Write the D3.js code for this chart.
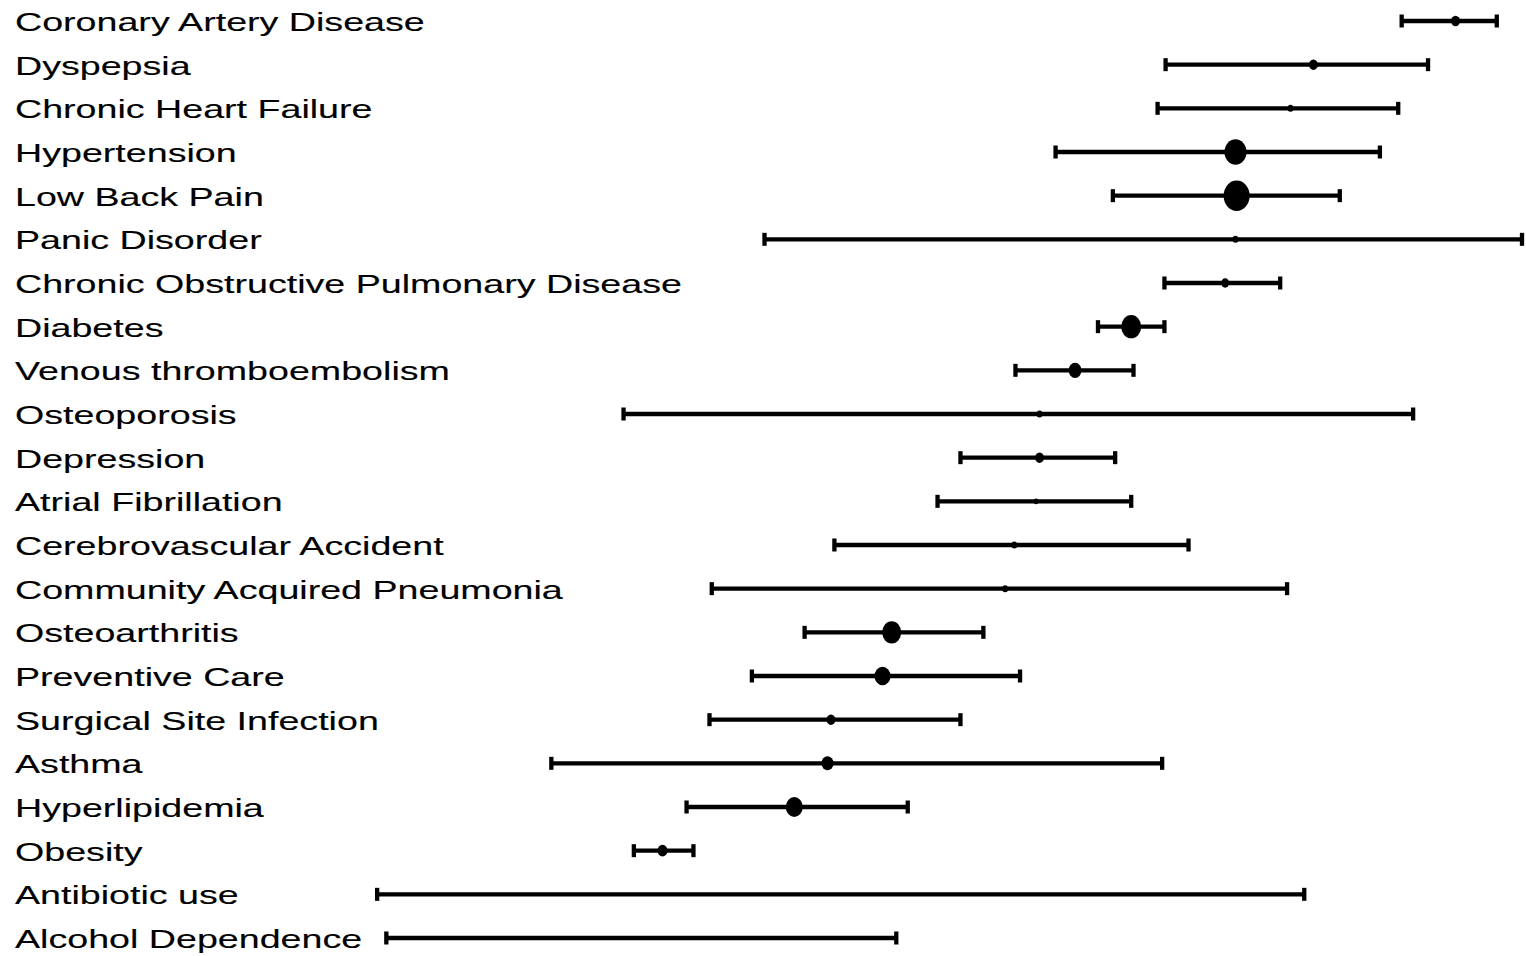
<!DOCTYPE html>
<html lang="en">
  <head>
    <meta charset="UTF-8" />
    <title>Forest plot</title>
    <script src="https://d3js.org/d3.v7.min.js"></script>
    <style>
      body {
        margin: 0;
        background-color: #fff;
        font-family: Arial, "Liberation Sans", sans-serif;
      }
    </style>
  </head>
  <body>
    <div id="chart"></div>
    <script>
      // values (no axis shown, so an arbitrary 0-100 scale)
      const conditions = [
        "Coronary Artery Disease",
        "Dyspepsia",
        "Chronic Heart Failure",
        "Hypertension",
        "Low Back Pain",
        "Panic Disorder",
        "Chronic Obstructive Pulmonary Disease",
        "Diabetes",
        "Venous thromboembolism",
        "Osteoporosis",
        "Depression",
        "Atrial Fibrillation",
        "Cerebrovascular Accident",
        "Community Acquired Pneumonia",
        "Osteoarthritis",
        "Preventive Care",
        "Surgical Site Infection",
        "Asthma",
        "Hyperlipidemia",
        "Obesity",
        "Antibiotic use",
        "Alcohol Dependence",
      ];
      const estimate = [
        94.2, 81.8, 79.8, 75.0, 75.1, 75.0, 74.1, 65.9, 61.0, 57.9, 57.9,
        57.6, 55.7, 54.9, 45.0, 44.2, 39.7, 39.4, 36.5, 25.0, 19.9, 13.3,
      ];
      const lower = [
        89.5, 68.9, 68.2, 59.3, 64.3, 33.9, 68.8, 63.0, 55.8, 21.6, 51.0,
        49.0, 40.0, 29.3, 37.4, 32.8, 29.1, 15.3, 27.1, 22.5, 0.1, 0.9,
      ];
      const upper = [
        97.8, 91.8, 89.2, 87.6, 84.1, 100.0, 78.9, 68.8, 66.1, 90.5, 64.5,
        65.9, 70.9, 79.5, 53.0, 56.2, 51.0, 68.6, 46.4, 27.7, 81.0, 45.4,
      ];
      // relative weight -> dot size
      const weight = [
        20, 20, 9, 121, 169, 9, 16, 100, 42, 9, 20, 6, 9, 9, 90, 64, 20, 36,
        72, 25, 2, 2,
      ];

      const width = 1526;
      const height = 956;

      const rows = conditions.map((name, i) => ({
        name,
        est: estimate[i],
        lo: lower[i],
        hi: upper[i],
        w: weight[i],
      }));

      const svg = d3
        .select("#chart")
        .append("svg")
        .attr("width", width)
        .attr("height", height);

      const x = d3.scaleLinear().domain([0, 100]).range([376, 1522]);
      const y = d3.scalePoint().domain(conditions).range([21, 938]);
      const r = d3.scaleSqrt().domain([0, d3.max(weight)]).range([0, 13]);

      // labels (the source image is stretched sideways)
      svg
        .selectAll("text.label")
        .data(rows)
        .join("text")
        .attr("class", "label")
        .attr(
          "transform",
          (d) => `translate(15, ${y(d.name) + 10}) scale(1.42, 1)`
        )
        .attr("font-size", 26.5)
        .attr("fill", "#000")
        .attr("stroke", "#000")
        .attr("stroke-width", 0.12)
        .text((d) => d.name);

      const g = svg.selectAll("g.row").data(rows).join("g").attr("class", "row");

      g.append("line")
        .attr("x1", (d) => x(d.lo))
        .attr("x2", (d) => x(d.hi))
        .attr("y1", (d) => y(d.name))
        .attr("y2", (d) => y(d.name))
        .attr("stroke", "#000")
        .attr("stroke-width", 4.3);

      // end caps
      ["lo", "hi"].forEach((k) => {
        g.append("line")
          .attr("x1", (d) => x(d[k]))
          .attr("x2", (d) => x(d[k]))
          .attr("y1", (d) => y(d.name) - 6.5)
          .attr("y2", (d) => y(d.name) + 6.5)
          .attr("stroke", "#000")
          .attr("stroke-width", 4.3);
      });

      g.append("ellipse")
        .attr("cx", (d) => x(d.est))
        .attr("cy", (d) => y(d.name))
        .attr("rx", (d) => r(d.w))
        .attr("ry", (d) => r(d.w) * 1.17)
        .attr("fill", "#000");
    </script>
  </body>
</html>
